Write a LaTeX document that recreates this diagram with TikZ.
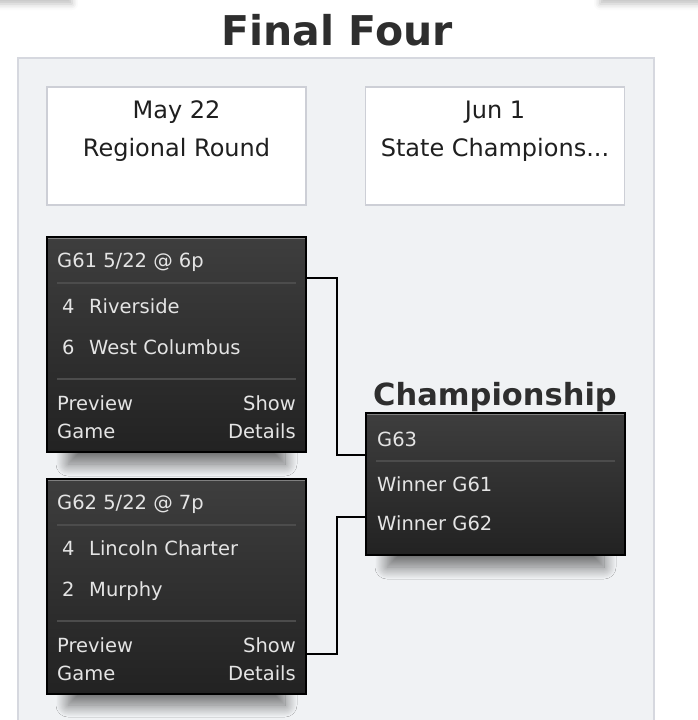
\documentclass[tikz,border=0pt]{standalone}
\usepackage{fontspec}
\setmainfont{DejaVu Sans}
\usetikzlibrary{positioning}
\usetikzlibrary{shadows.blur}

\definecolor{panelfill}{HTML}{F0F2F4}
\definecolor{paneledge}{HTML}{D6D8DF}
\definecolor{dateedge}{HTML}{CDCFD6}
\definecolor{boxtop}{HTML}{3E3E3E}
\definecolor{boxbot}{HTML}{222222}
\definecolor{boxtext}{HTML}{E4E4E4}
\definecolor{sepcol}{HTML}{4C4C4C}
\definecolor{titlecol}{HTML}{2E2E2E}

\begin{document}
\begin{tikzpicture}[x=1pt,y=-1pt,
    gamebox/.style={draw=black, line width=1.5pt, top color=boxtop, bottom color=boxbot,
      minimum width=259pt, inner sep=0pt, outer sep=0pt},
    boxshadow/.style={blur shadow={shadow xshift=0pt, shadow yshift=-8pt,
        shadow blur radius=12pt, shadow blur steps=30, shadow opacity=55}},
    datebox/.style={draw=dateedge, line width=1.5pt, fill=white, minimum width=259pt,
      minimum height=118pt, inner sep=0pt, outer sep=0pt},
    datetext/.style={font=\fontsize{24}{28}\selectfont, text=black!88, anchor=base, inner sep=0pt},
    boxtxt/.style={font=\fontsize{19.5}{23}\selectfont, text=boxtext, inner sep=0pt},
    sepline/.style={draw=sepcol, line width=1.2pt},
    topline/.style={draw=black!50, line width=1pt},
    bracket/.style={draw=black, line width=1.8pt}]
    \useasboundingbox (0,0) rectangle (697,720);
    % cut-off shadows at the top
    \fill[white, blur shadow={shadow xshift=0pt, shadow yshift=-8pt, shadow blur radius=6pt, shadow opacity=25}] (-80,-80) rectangle (72,-4);
    \fill[white, blur shadow={shadow xshift=0pt, shadow yshift=-8pt, shadow blur radius=6pt, shadow opacity=25}] (600,-80) rectangle (780,-4);
    \fill[white] (-90,-90) rectangle (790,0);
    % title and panel
    \node[font=\fontsize{41}{45}\bfseries\selectfont, text=titlecol, anchor=base, inner sep=0pt] (title) at (337,45) {Final Four};
    \draw[fill=panelfill, draw=paneledge, line width=2pt] (18,58) rectangle (654,760);
    % round headers
    \node[datebox] (rnd1) at (176.5,146) {};
    \node[datebox] (rnd2) at (495,146) {};
    \node[datetext] (rnd1a) at (176.5,118) {May 22};
    \node[datetext] (rnd1b) at (176.5,156) {Regional Round};
    \node[datetext] (rnd2a) at (495,118) {Jun 1};
    \node[datetext] (rnd2b) at (495,156) {State Champions...};
    % shadows under the dark boxes
    \path[boxshadow] (68,280) rectangle (285,456);
    \path[boxshadow] (68,522) rectangle (285,697);
    \path[boxshadow] (387,450) rectangle (604,559);
    % connectors
    \coordinate (g61out) at (306,278);
    \coordinate (g62out) at (306,654);
    \coordinate (g63in1) at (366,455);
    \coordinate (g63in2) at (366,517);
    \draw[bracket] (g61out) -- (337,278) |- (g63in1);
    \draw[bracket] (g62out) -- (337,654) |- (g63in2);
    % game G61
    \node[gamebox, minimum height=215pt] (g61) at (176.5,344.5) {};
    \draw[topline] ([shift={(1,1.5)}]g61.north west) -- ([shift={(-1,1.5)}]g61.north east);
    \node[boxtxt, anchor=base west] (g61h) at ([shift={(10,30)}]g61.north west) {G61 5/22 @ 6p};
    \draw[sepline] ([shift={(10,46)}]g61.north west) -- ([shift={(-10,46)}]g61.north east);
    \node[boxtxt, anchor=base west] (g61a) at ([shift={(15,76)}]g61.north west) {\hbox to 27pt{4\hss}Riverside};
    \node[boxtxt, anchor=base west] (g61b) at ([shift={(15,117)}]g61.north west) {\hbox to 27pt{6\hss}West Columbus};
    \draw[sepline] ([shift={(10,142)}]g61.north west) -- ([shift={(-10,142)}]g61.north east);
    \node[boxtxt, anchor=base west] (g61p) at ([shift={(10,173)}]g61.north west) {Preview};
    \node[boxtxt, anchor=base west] (g61g) at ([shift={(10,201)}]g61.north west) {Game};
    \node[boxtxt, anchor=base east] (g61s) at ([shift={(-10,173)}]g61.north east) {Show};
    \node[boxtxt, anchor=base east] (g61d) at ([shift={(-10,201)}]g61.north east) {Details};
    % game G62
    \node[gamebox, minimum height=215pt] (g62) at (176.5,586.5) {};
    \draw[topline] ([shift={(1,1.5)}]g62.north west) -- ([shift={(-1,1.5)}]g62.north east);
    \node[boxtxt, anchor=base west] (g62h) at ([shift={(10,30)}]g62.north west) {G62 5/22 @ 7p};
    \draw[sepline] ([shift={(10,46)}]g62.north west) -- ([shift={(-10,46)}]g62.north east);
    \node[boxtxt, anchor=base west] (g62a) at ([shift={(15,76)}]g62.north west) {\hbox to 27pt{4\hss}Lincoln Charter};
    \node[boxtxt, anchor=base west] (g62b) at ([shift={(15,117)}]g62.north west) {\hbox to 27pt{2\hss}Murphy};
    \draw[sepline] ([shift={(10,142)}]g62.north west) -- ([shift={(-10,142)}]g62.north east);
    \node[boxtxt, anchor=base west] (g62p) at ([shift={(10,173)}]g62.north west) {Preview};
    \node[boxtxt, anchor=base west] (g62g) at ([shift={(10,201)}]g62.north west) {Game};
    \node[boxtxt, anchor=base east] (g62s) at ([shift={(-10,173)}]g62.north east) {Show};
    \node[boxtxt, anchor=base east] (g62d) at ([shift={(-10,201)}]g62.north east) {Details};
    % championship G63
    \node[font=\fontsize{30.5}{34}\bfseries\selectfont, text=titlecol, anchor=base west, inner sep=0pt] (champ) at (373,405) {Championship};
    \node[gamebox, minimum height=142pt] (g63) at (495.5,484) {};
    \draw[topline] ([shift={(1,1.5)}]g63.north west) -- ([shift={(-1,1.5)}]g63.north east);
    \node[boxtxt, anchor=base west] (g63h) at ([shift={(11,33)}]g63.north west) {G63};
    \draw[sepline] ([shift={(10,48)}]g63.north west) -- ([shift={(-10,48)}]g63.north east);
    \node[boxtxt, anchor=base west] (g63a) at ([shift={(11,78)}]g63.north west) {Winner G61};
    \node[boxtxt, anchor=base west] (g63b) at ([shift={(11,117)}]g63.north west) {Winner G62};
\end{tikzpicture}
\end{document}
